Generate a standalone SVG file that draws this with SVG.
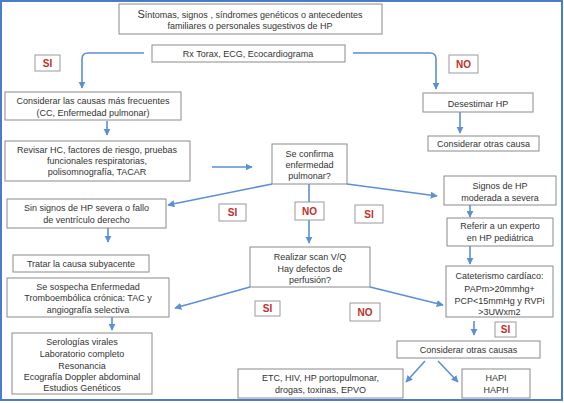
<svg xmlns="http://www.w3.org/2000/svg" width="564" height="403" viewBox="0 0 564 403">
<defs>
<style>
.bx{fill:#fff;stroke:#8a8a8a;stroke-width:1}
.t{font-family:"Liberation Sans",Arial,sans-serif;font-size:9px;fill:#333;text-anchor:middle}
.lb{fill:#fff;stroke:#9a9a9a;stroke-width:1}
.lt{font-family:"Liberation Sans",Arial,sans-serif;font-size:10px;font-weight:bold;fill:#c0302a;text-anchor:middle}
.c{fill:none;stroke:#5b8fd6;stroke-width:1.6}
</style>
<marker id="ah" viewBox="0 0 10 10" refX="9" refY="5" markerWidth="4.4" markerHeight="4.4" orient="auto">
<path d="M0,0 L10,5 L0,10 z" fill="#5b8fd6"/>
</marker>
</defs>
<rect x="0" y="0" width="564" height="403" fill="#fff"/>
<rect x="1" y="1" width="561" height="399" fill="none" stroke="#4a7cc9" stroke-width="2"/>

<g id="connectors">
<path class="c" d="M144,53 H88 Q82,53 82,59 V88" marker-end="url(#ah)"/>
<path class="c" d="M353,53 H430 Q436,53 436,59 V89" marker-end="url(#ah)"/>
<path class="c" d="M107,121 V135" marker-end="url(#ah)"/>
<path class="c" d="M212,167 H252" marker-end="url(#ah)"/>
<path class="c" d="M272,184 L168,205" marker-end="url(#ah)"/>
<path class="c" d="M347,184 L437,196" marker-end="url(#ah)"/>
<path class="c" d="M309,184 V243" marker-end="url(#ah)"/>
<path class="c" d="M460,112 V133" marker-end="url(#ah)"/>
<path class="c" d="M470,205 V217" marker-end="url(#ah)"/>
<path class="c" d="M470,246 V264" marker-end="url(#ah)"/>
<path class="c" d="M108,228 V242" marker-end="url(#ah)"/>
<path class="c" d="M250,287 L175,308" marker-end="url(#ah)"/>
<path class="c" d="M370,287 L443,305" marker-end="url(#ah)"/>
<path class="c" d="M112,317 V330" marker-end="url(#ah)"/>
<path class="c" d="M474,321 V335" marker-end="url(#ah)"/>
<path class="c" d="M425,361 L406,382" marker-end="url(#ah)"/>
<path class="c" d="M438,361 L458,382" marker-end="url(#ah)"/>
</g>

<g id="n-sintomas">
<rect class="bx" x="119" y="4" width="263" height="30"/>
<text class="t" x="250" y="18" font-size="8.6"><tspan font-size="11">S</tspan>íntomas, signos , síndromes genéticos o antecedentes</text>
<text class="t" x="250" y="29" font-size="8.6">familiares o personales sugestivos de HP</text>
</g>
<g id="n-rx">
<rect class="bx" x="152" y="45" width="193" height="17"/>
<text class="t" x="248" y="57">Rx Torax, ECG, Ecocardiograma</text>
</g>
<g id="l-si1"><rect class="lb" x="35" y="55" width="25" height="16"/><text class="lt" x="47.5" y="67">SI</text></g>
<g id="l-no1"><rect class="lb" x="449" y="55" width="29" height="18"/><text class="lt" x="463.5" y="68">NO</text></g>

<g id="n-considerar">
<rect class="bx" x="5" y="92" width="176" height="28"/>
<text class="t" x="93" y="104">Considerar las causas más frecuentes</text>
<text class="t" x="93" y="116">(CC, Enfermedad pulmonar)</text>
</g>
<g id="n-revisar">
<rect class="bx" x="5" y="141" width="185" height="40"/>
<text class="t" x="97" y="153">Revisar HC, factores de riesgo, pruebas</text>
<text class="t" x="97" y="164">funcionales respiratorias,</text>
<text class="t" x="97" y="175">polisomnografía, TACAR</text>
</g>
<g id="n-confirma">
<rect class="bx" x="272" y="144" width="75" height="40"/>
<text class="t" x="309.5" y="157">Se confirma</text>
<text class="t" x="309.5" y="168">enfermedad</text>
<text class="t" x="309.5" y="179">pulmonar?</text>
</g>
<g id="n-desestimar">
<rect class="bx" x="423" y="93" width="110" height="19"/>
<text class="t" x="478" y="107" font-size="11">Desestimar HP</text>
</g>
<g id="n-otras1">
<rect class="bx" x="428" y="136" width="111" height="15"/>
<text class="t" x="483.5" y="147">Considerar otras causa</text>
</g>
<g id="n-signos">
<rect class="bx" x="444" y="176" width="112" height="29"/>
<text class="t" x="500" y="189">Signos de HP</text>
<text class="t" x="500" y="201">moderada a severa</text>
</g>
<g id="l-si2"><rect class="lb" x="219" y="204" width="27" height="17"/><text class="lt" x="232.5" y="216">SI</text></g>
<g id="l-no2"><rect class="lb" x="295" y="202" width="29" height="18"/><text class="lt" x="309.5" y="215">NO</text></g>
<g id="l-si3"><rect class="lb" x="355" y="205" width="28" height="18"/><text class="lt" x="369" y="218">SI</text></g>

<g id="n-sinsignos">
<rect class="bx" x="7" y="199" width="159" height="29"/>
<text class="t" x="86.5" y="211">Sin signos de HP severa o fallo</text>
<text class="t" x="86.5" y="223">de ventrículo derecho</text>
</g>
<g id="n-tratar">
<rect class="bx" x="13" y="255" width="136" height="17"/>
<text class="t" x="81" y="267">Tratar la causa subyacente</text>
</g>
<g id="n-referir">
<rect class="bx" x="447" y="218" width="106" height="28"/>
<text class="t" x="500" y="229">Referir a un experto</text>
<text class="t" x="500" y="241">en HP pediátrica</text>
</g>
<g id="n-realizar">
<rect class="bx" x="250" y="247" width="120" height="40"/>
<text class="t" x="310" y="260">Realizar scan V/Q</text>
<text class="t" x="310" y="272">Hay defectos de</text>
<text class="t" x="310" y="283">perfusión?</text>
</g>
<g id="n-cateterismo">
<rect class="bx" x="446" y="266" width="107" height="51"/>
<text class="t" x="499.5" y="279">Cateterismo cardíaco:</text>
<text class="t" x="499.5" y="292">PAPm&gt;20mmhg+</text>
<text class="t" x="499.5" y="304">PCP&lt;15mmHg y RVPi</text>
<text class="t" x="499.5" y="315">&gt;3UWxm2</text>
</g>
<g id="n-sospecha">
<rect class="bx" x="7" y="278" width="162" height="39"/>
<text class="t" x="88" y="290">Se sospecha Enfermedad</text>
<text class="t" x="88" y="301">Tromboembólica crónica: TAC y</text>
<text class="t" x="88" y="313">angiografía selectiva</text>
</g>
<g id="l-si4"><rect class="lb" x="255" y="301" width="25" height="15"/><text class="lt" x="267.5" y="312">SI</text></g>
<g id="l-no3"><rect class="lb" x="350" y="303" width="30" height="18"/><text class="lt" x="365" y="316">NO</text></g>
<g id="l-si5"><rect class="lb" x="495" y="322" width="21" height="15"/><text class="lt" x="505.5" y="333" font-size="9">SI</text></g>

<g id="n-serologias">
<rect class="bx" x="12" y="333" width="140" height="61"/>
<text class="t" x="82" y="345">Serologías virales</text>
<text class="t" x="82" y="357">Laboratorio completo</text>
<text class="t" x="82" y="369">Resonancia</text>
<text class="t" x="82" y="380">Ecografía Doppler abdominal</text>
<text class="t" x="82" y="391">Estudios  Genéticos</text>
</g>
<g id="n-otras2">
<rect class="bx" x="397" y="341" width="143" height="17"/>
<text class="t" x="468.5" y="353">Considerar otras causas</text>
</g>
<g id="n-etc">
<rect class="bx" x="238" y="369" width="165" height="29"/>
<text class="t" x="320.5" y="381">ETC, HIV, HP portopulmonar,</text>
<text class="t" x="320.5" y="393">drogas, toxinas, EPVO</text>
</g>
<g id="n-hapi">
<rect class="bx" x="462" y="369" width="68" height="29"/>
<text class="t" x="496" y="381">HAPI</text>
<text class="t" x="496" y="393">HAPH</text>
</g>
</svg>
